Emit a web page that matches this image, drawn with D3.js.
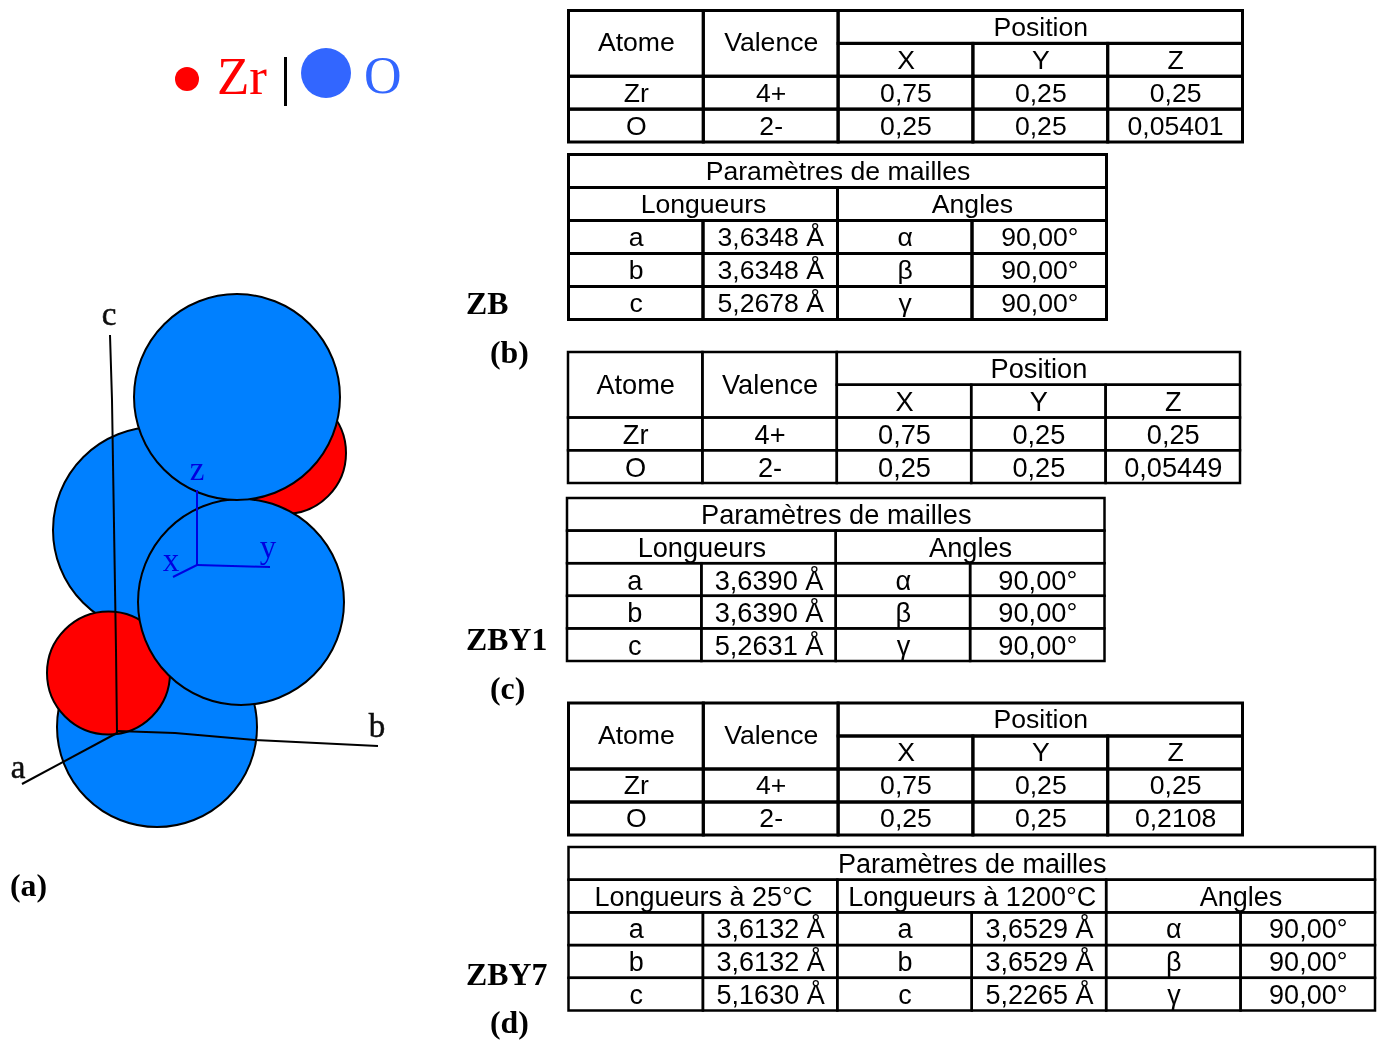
<!DOCTYPE html>
<html>
<head>
<meta charset="utf-8">
<script src="https://cdn.jsdelivr.net/npm/d3@7"></script>
<style>
    html, body { margin: 0; padding: 0; background: #fff; }
    svg { display: block; }
    .cell-text { font-family: "Liberation Sans", Arial, sans-serif; fill: #000; text-anchor: middle; }
    .serif-bold { font-family: "Liberation Serif", serif; font-weight: bold; font-size: 31.8px; fill: #000; }
    .serif { font-family: "Liberation Serif", serif; }
</style>
</head>
<body>
<div id="chart"></div>
<script>
// Atoms of the unit cell, in back to front order
const atomKind = ["O", "O", "Zr", "Zr", "O", "O"];
const atomX = [157, 156, 108.5, 285, 241, 237];
const atomY = [727, 530, 673, 453, 602, 397];
const atomR = [100, 103, 61.5, 61, 103, 103];

// Axes of the crystal frame (a, b, c) and of the xyz trihedron
const crystalAxes = [
    { name: "c", pts: [[117, 733], [116, 650], [112, 400], [110, 335]] },
    { name: "a", pts: [[117, 733], [22, 784]] },
    { name: "b", pts: [[117, 731], [175, 733], [255, 740], [378, 746]] }
];
const crystalLabels = [["c", 109, 325], ["a", 18, 778], ["b", 377, 737]];
const frameAxes = [
    { name: "z", pts: [[197, 490], [197, 565]] },
    { name: "y", pts: [[197, 565], [270, 567]] },
    { name: "x", pts: [[197, 565], [173, 577]] }
];
const frameLabels = [["z", 197, 480], ["y", 268, 558], ["x", 171, 571]];

// Table text
const atomNames = ["Zr", "O"];
const valences = ["4+", "2-"];
const posX = ["0,75", "0,25"];
const posY = ["0,25", "0,25"];
const posZ_ZB = ["0,25", "0,05401"];
const posZ_ZBY1 = ["0,25", "0,05449"];
const posZ_ZBY7 = ["0,25", "0,2108"];

const latticeNames = ["a", "b", "c"];
const angleNames = ["α", "β", "γ"];
const angleValues = ["90,00°", "90,00°", "90,00°"];
const lengths_ZB = ["3,6348 Å", "3,6348 Å", "5,2678 Å"];
const lengths_ZBY1 = ["3,6390 Å", "3,6390 Å", "5,2631 Å"];
const lengths_ZBY7_25 = ["3,6132 Å", "3,6132 Å", "5,1630 Å"];
const lengths_ZBY7_1200 = ["3,6529 Å", "3,6529 Å", "5,2265 Å"];

const colors = { Zr: "#ff0000", O: "#0080ff" };

const svg = d3.select("#chart").append("svg")
    .attr("width", 1383)
    .attr("height", 1040);

const defs = svg.append("defs");
defs.append("filter").attr("id", "soft")
    .append("feGaussianBlur").attr("stdDeviation", 0.45);

// Scene scales: the picture units are kept 1:1 with the page
const sceneX = d3.scaleLinear().domain([0, 400]).range([0, 400]);
const sceneY = d3.scaleLinear().domain([280, 840]).range([280, 840]);
const axisLine = d3.line().x(d => sceneX(d[0])).y(d => sceneY(d[1]));

// Legend
const legend = svg.append("g").attr("filter", "url(#soft)");
legend.append("circle").attr("cx", 187).attr("cy", 79).attr("r", 12).attr("fill", "#ff0000");
legend.append("text").attr("class", "serif").attr("x", 217).attr("y", 94)
    .style("font-size", "53px").attr("fill", "#ff0000").text("Zr");
legend.append("rect").attr("x", 284).attr("y", 57).attr("width", 3).attr("height", 49).attr("fill", "#000");
legend.append("circle").attr("cx", 326).attr("cy", 73).attr("r", 25).attr("fill", "#3366ff");
legend.append("text").attr("class", "serif").attr("x", 364).attr("y", 93)
    .style("font-size", "52px").attr("fill", "#3366ff").text("O");

// Atoms
const scene = svg.append("g").attr("filter", "url(#soft)");
scene.selectAll(".atom")
    .data(atomKind)
    .enter().append("circle")
    .attr("class", "atom")
    .attr("cx", (d, i) => sceneX(atomX[i]))
    .attr("cy", (d, i) => sceneY(atomY[i]))
    .attr("r", (d, i) => atomR[i])
    .attr("fill", d => colors[d])
    .attr("stroke", "#000")
    .attr("stroke-width", 2);

scene.selectAll(".crystal-axis")
    .data(crystalAxes)
    .enter().append("path")
    .attr("class", "crystal-axis")
    .attr("d", d => axisLine(d.pts))
    .attr("fill", "none")
    .attr("stroke", "#000")
    .attr("stroke-width", 2);

scene.selectAll(".frame-axis")
    .data(frameAxes)
    .enter().append("path")
    .attr("class", "frame-axis")
    .attr("d", d => axisLine(d.pts))
    .attr("fill", "none")
    .attr("stroke", "#0000e0")
    .attr("stroke-width", 2);

scene.selectAll(".crystal-label")
    .data(crystalLabels)
    .enter().append("text")
    .attr("class", "serif crystal-label")
    .attr("x", d => sceneX(d[1]))
    .attr("y", d => sceneY(d[2]))
    .attr("text-anchor", "middle")
    .style("font-size", "33px")
    .attr("fill", "#111")
    .attr("stroke", "#111")
    .attr("stroke-width", 0.5)
    .text(d => d[0]);

scene.selectAll(".frame-label")
    .data(frameLabels)
    .enter().append("text")
    .attr("class", "serif frame-label")
    .attr("x", d => sceneX(d[1]))
    .attr("y", d => sceneY(d[2]))
    .attr("text-anchor", "middle")
    .style("font-size", "33px")
    .attr("fill", "#0000e0")
    .text(d => d[0]);

// Draw one table: cells span grid lines [c0, c1] x [r0, r1]
function drawTable(opts, cells) {
    const x = d3.scaleLinear().domain([0, opts.cols]).range([opts.x0, opts.x1]);
    const y = d3.scaleLinear().domain([0, opts.rows]).range([opts.y0, opts.y1]);
    const g = svg.append("g").attr("filter", "url(#soft)");

    g.selectAll("rect")
        .data(cells)
        .enter().append("rect")
        .attr("x", d => x(d.c0))
        .attr("y", d => y(d.r0))
        .attr("width", d => x(d.c1) - x(d.c0))
        .attr("height", d => y(d.r1) - y(d.r0))
        .attr("fill", "none")
        .attr("stroke", "#000")
        .attr("stroke-width", opts.line);

    g.selectAll("text")
        .data(cells)
        .enter().append("text")
        .attr("class", "cell-text")
        .style("font-size", opts.font + "px")
        .attr("x", d => (x(d.c0) + x(d.c1)) / 2 + 0.5)
        .attr("y", d => (y(d.r0) + y(d.r1)) / 2 + 9.5 + opts.dy + (d.r1 - d.r0 === 2 ? opts.spanDy : 0))
        .text(d => d.text);
}

function positionCells(zValues) {
    const cells = [
        { c0: 0, c1: 1, r0: 0, r1: 2, text: "Atome" },
        { c0: 1, c1: 2, r0: 0, r1: 2, text: "Valence" },
        { c0: 2, c1: 5, r0: 0, r1: 1, text: "Position" },
        { c0: 2, c1: 3, r0: 1, r1: 2, text: "X" },
        { c0: 3, c1: 4, r0: 1, r1: 2, text: "Y" },
        { c0: 4, c1: 5, r0: 1, r1: 2, text: "Z" }
    ];
    atomNames.forEach((name, i) => {
        [name, valences[i], posX[i], posY[i], zValues[i]].forEach((t, c) => {
            cells.push({ c0: c, c1: c + 1, r0: i + 2, r1: i + 3, text: t });
        });
    });
    return cells;
}

// Lattice table: one or several "length" groups followed by the angles group
function latticeCells(groups) {
    const n = groups.length * 2;
    const cells = [{ c0: 0, c1: n, r0: 0, r1: 1, text: "Paramètres de mailles" }];
    groups.forEach((group, g) => {
        cells.push({ c0: g * 2, c1: g * 2 + 2, r0: 1, r1: 2, text: group.title });
        group.names.forEach((name, i) => {
            cells.push({ c0: g * 2, c1: g * 2 + 1, r0: i + 2, r1: i + 3, text: name });
            cells.push({ c0: g * 2 + 1, c1: g * 2 + 2, r0: i + 2, r1: i + 3, text: group.values[i] });
        });
    });
    return cells;
}

// ZB
drawTable({ x0: 568.5, x1: 1242.5, y0: 10.5, y1: 142, cols: 5, rows: 4, line: 3, font: 26.6, dy: 0, spanDy: -2 },
    positionCells(posZ_ZB));
drawTable({ x0: 568.5, x1: 1106.5, y0: 154.5, y1: 319.5, cols: 4, rows: 5, line: 3, font: 26.6, dy: -1, spanDy: 0 },
    latticeCells([
        { title: "Longueurs", names: latticeNames, values: lengths_ZB },
        { title: "Angles", names: angleNames, values: angleValues }
    ]));

// ZBY1
drawTable({ x0: 568, x1: 1240, y0: 352, y1: 483, cols: 5, rows: 4, line: 2.5, font: 27.2, dy: 0.5, spanDy: -0.5 },
    positionCells(posZ_ZBY1));
drawTable({ x0: 567, x1: 1104.5, y0: 498, y1: 661, cols: 4, rows: 5, line: 2.5, font: 27.2, dy: 0.5, spanDy: 0 },
    latticeCells([
        { title: "Longueurs", names: latticeNames, values: lengths_ZBY1 },
        { title: "Angles", names: angleNames, values: angleValues }
    ]));

// ZBY7
drawTable({ x0: 568.5, x1: 1242.5, y0: 703, y1: 835, cols: 5, rows: 4, line: 3, font: 26.6, dy: -1, spanDy: -1 },
    positionCells(posZ_ZBY7));
drawTable({ x0: 568.5, x1: 1375, y0: 847, y1: 1010.5, cols: 6, rows: 5, line: 2.5, font: 27, dy: 0, spanDy: 0 },
    latticeCells([
        { title: "Longueurs à 25°C", names: latticeNames, values: lengths_ZBY7_25 },
        { title: "Longueurs à 1200°C", names: latticeNames, values: lengths_ZBY7_1200 },
        { title: "Angles", names: angleNames, values: angleValues }
    ]));

// Side labels
const sideLabels = ["(a)", "ZB", "(b)", "ZBY1", "(c)", "ZBY7", "(d)"];
const sideX = [10, 466, 490, 466, 490, 466, 490];
const sideY = [896, 314, 363, 650, 699, 985, 1033];
svg.append("g").attr("filter", "url(#soft)")
    .selectAll("text")
    .data(sideLabels)
    .enter().append("text")
    .attr("class", "serif-bold")
    .attr("x", (d, i) => sideX[i])
    .attr("y", (d, i) => sideY[i])
    .text(d => d);
</script>
</body>
</html>
